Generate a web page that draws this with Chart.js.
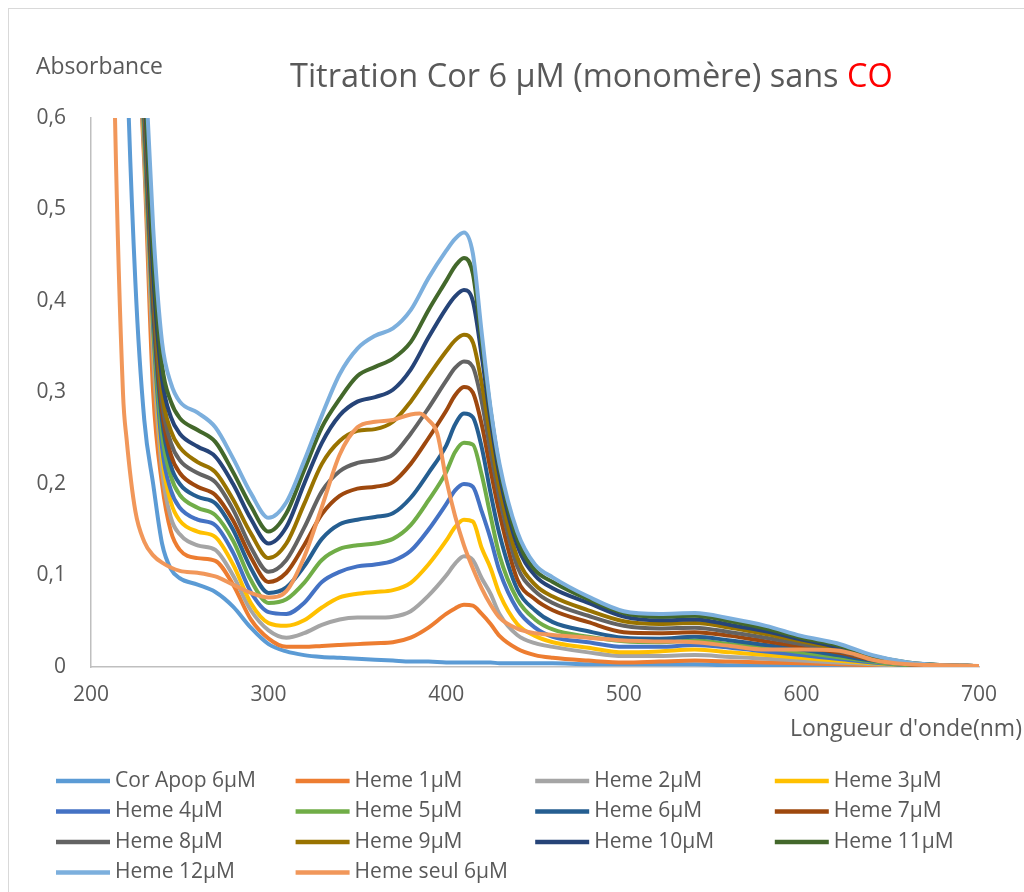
<!DOCTYPE html>
<html><head><meta charset="utf-8">
<script src="https://cdn.jsdelivr.net/npm/chart.js@4.4.0/dist/chart.umd.min.js"></script>
<style>html,body{margin:0;padding:0;background:#fff;} #wrap{position:relative;width:1024px;height:892px;}</style>
</head><body><div id="wrap"><canvas id="c"></canvas></div>
<script>
// ---------- DATA ----------
const wavelengths = [210,215,220,225,230,235,240,245,250,260,270,280,290,300,310,320,330,340,350,360,370,380,390,400,405,410,415,420,425,430,440,450,460,480,500,520,540,560,580,600,620,640,660,680,700];
const corApop = [1.6,1.1,0.68,0.42,0.27,0.2,0.135,0.107,0.097, 0.09,0.082,0.066,0.043,0.025, 0.017,0.013,0.011,0.01,0.009,0.008,0.007,0.006,0.006,0.005, 0.005,0.005,0.005,0.005,0.005,0.004, 0.004,0.004,0.004,0.003,0.003, 0.003,0.003,0.002,0.002,0.002,0.002,0.001,0.001,0.001,0.001];
const heme1 = [1.6,1.3,1.0,0.75,0.55,0.3,0.2,0.148,0.128, 0.119,0.116,0.09,0.052,0.031, 0.022,0.022,0.023,0.024,0.025,0.026,0.027,0.032,0.043,0.058, 0.064,0.068,0.067,0.058,0.047,0.034, 0.02,0.013,0.01,0.007,0.005, 0.006,0.007,0.006,0.005,0.004,0.003,0.002,0.001,0.001,0.001];
const heme2 = [1.6,1.3,1.0,0.76,0.56,0.34,0.215,0.163,0.145, 0.133,0.128,0.1,0.062,0.04, 0.032,0.037,0.046,0.052,0.054,0.054,0.055,0.061,0.078,0.1, 0.113,0.121,0.117,0.097,0.08,0.058, 0.035,0.026,0.022,0.016,0.012, 0.012,0.013,0.011,0.009,0.007,0.005,0.003,0.001,0.001,0.001];
const heme3 = [1.6,1.3,1.0,0.77,0.57,0.36,0.23,0.18,0.16, 0.148,0.142,0.112,0.07,0.048, 0.045,0.051,0.065,0.076,0.08,0.082,0.084,0.092,0.112,0.138, 0.153,0.161,0.159,0.13,0.108,0.08, 0.047,0.034,0.027,0.021,0.016, 0.017,0.019,0.016,0.013,0.01,0.007,0.004,0.002,0.001,0.001];
const heme4 = [1.6,1.3,1.0,0.78,0.58,0.37,0.24,0.193,0.174, 0.161,0.155,0.125,0.082,0.06, 0.058,0.07,0.093,0.104,0.11,0.112,0.116,0.127,0.15,0.178, 0.193,0.2,0.197,0.17,0.14,0.105, 0.063,0.043,0.033,0.027,0.022, 0.022,0.024,0.021,0.017,0.013,0.009,0.005,0.002,0.001,0.001];
const heme5 = [1.6,1.3,1.0,0.79,0.59,0.38,0.255,0.208,0.188, 0.174,0.166,0.138,0.095,0.07, 0.074,0.092,0.117,0.129,0.133,0.135,0.14,0.155,0.182,0.213, 0.235,0.245,0.243,0.21,0.165,0.122, 0.074,0.052,0.041,0.033,0.028, 0.027,0.029,0.025,0.021,0.016,0.011,0.006,0.002,0.001,0.001];
const heme6 = [1.6,1.3,1.02,0.8,0.6,0.39,0.27,0.22,0.2, 0.186,0.179,0.15,0.108,0.081, 0.087,0.11,0.14,0.156,0.161,0.164,0.168,0.185,0.212,0.242, 0.265,0.277,0.273,0.24,0.19,0.145, 0.085,0.062,0.049,0.039,0.032, 0.031,0.033,0.029,0.024,0.019,0.013,0.007,0.003,0.001,0.001];
const heme7 = [1.6,1.3,1.02,0.8,0.61,0.4,0.28,0.232,0.212, 0.197,0.188,0.16,0.12,0.093, 0.103,0.133,0.167,0.187,0.195,0.197,0.202,0.222,0.25,0.28, 0.297,0.306,0.3,0.265,0.215,0.168, 0.096,0.074,0.062,0.049,0.038, 0.037,0.038,0.034,0.028,0.022,0.016,0.008,0.003,0.001,0.001];
const heme8 = [1.6,1.3,1.03,0.81,0.62,0.41,0.29,0.245,0.226, 0.212,0.202,0.172,0.131,0.104, 0.117,0.152,0.192,0.214,0.223,0.226,0.232,0.255,0.283,0.313, 0.327,0.334,0.328,0.29,0.235,0.185, 0.11,0.083,0.07,0.056,0.045, 0.042,0.043,0.038,0.032,0.025,0.018,0.009,0.004,0.002,0.001];
const heme9 = [1.6,1.3,1.03,0.82,0.63,0.42,0.3,0.258,0.24, 0.224,0.213,0.183,0.146,0.119, 0.135,0.178,0.222,0.247,0.258,0.26,0.268,0.29,0.318,0.345, 0.357,0.363,0.355,0.31,0.25,0.196, 0.12,0.09,0.077,0.062,0.05, 0.047,0.048,0.043,0.036,0.028,0.02,0.01,0.004,0.002,0.001];
const heme10 = [1.6,1.3,1.04,0.83,0.64,0.43,0.315,0.273,0.255, 0.241,0.23,0.2,0.162,0.135, 0.153,0.2,0.245,0.275,0.29,0.295,0.303,0.325,0.36,0.392, 0.405,0.412,0.4,0.34,0.27,0.21, 0.133,0.1,0.086,0.07,0.055, 0.051,0.052,0.046,0.039,0.03,0.022,0.011,0.004,0.002,0.001];
const heme11 = [1.6,1.3,1.05,0.84,0.65,0.45,0.33,0.29,0.272, 0.259,0.246,0.213,0.176,0.148, 0.168,0.215,0.262,0.293,0.318,0.328,0.337,0.355,0.39,0.422, 0.438,0.447,0.43,0.355,0.28,0.218, 0.14,0.106,0.093,0.074,0.059, 0.055,0.056,0.05,0.042,0.032,0.024,0.012,0.005,0.002,0.001];
const heme12 = [1.6,1.3,1.06,0.86,0.68,0.48,0.355,0.31,0.29, 0.278,0.262,0.228,0.19,0.163, 0.18,0.225,0.275,0.32,0.348,0.362,0.37,0.39,0.425,0.455, 0.468,0.475,0.452,0.365,0.283,0.222, 0.148,0.112,0.098,0.077,0.061, 0.058,0.059,0.053,0.045,0.034,0.026,0.013,0.005,0.002,0.001];
const hemeSeulWavelengths = [208,213,218,220,225,230,235,240,250,260,270,280,290,300,310,320,330,340,350,360,370,380,385,390,395,400,405,410,415,420,425,430,440,450,460,480,500,520,540,560,580,600,620,630,640,660,680,700];
const hemeSeul = [1.3,0.65,0.3,0.25,0.17,0.137,0.122,0.114,0.105, 0.103,0.099,0.09,0.081,0.076,0.083,0.12,0.175,0.232,0.262,0.268,0.27,0.276, 0.277,0.27,0.255,0.205,0.165,0.133,0.108,0.086,0.068,0.054, 0.042,0.037,0.035,0.032,0.029, 0.028,0.027,0.023,0.019,0.019,0.018,0.014,0.008,0.003,0.002,0.001];

const seriesLabels = ['Cor Apop 6µM','Heme 1µM','Heme 2µM','Heme 3µM','Heme 4µM','Heme 5µM','Heme 6µM','Heme 7µM','Heme 8µM','Heme 9µM','Heme 10µM','Heme 11µM','Heme 12µM','Heme seul 6µM'];
const xTickValues = [200,300,400,500,600,700];
const yTickValues = [0,0.1,0.2,0.3,0.4,0.5,0.6];
const yTickLabels = ['0','0,1','0,2','0,3','0,4','0,5','0,6'];
const titleMain = 'Titration Cor 6 µM (monomère) sans ';
const titleRed = 'CO';
const yAxisTitle = 'Absorbance';
const xAxisTitle = "Longueur d'onde(nm)";

// ---------- STYLE ----------
const seriesColors = ['#5B9BD5','#ED7D31','#A5A5A5','#FFC000','#4472C4','#70AD47','#255E91','#9E480E','#636363','#997300','#264478','#43682B','#7CAFDD','#F1975A'];
const FAM = "'Open Sans', sans-serif";
const TXT = '#595959';

const mctx = document.createElement('canvas').getContext('2d');
function fit(text, w){ mctx.font = '100px ' + FAM; return 100 * w / mctx.measureText(text).width; }
const tickSize = fit('0,6', 29.5);
const legendSize = fit('Cor Apop 6µM', 141);
const titleSize = fit(titleMain + titleRed, 603);
const absSize = fit(yAxisTitle, 127);
const xtSize = fit(xAxisTitle, 232);

const seriesData = [corApop,heme1,heme2,heme3,heme4,heme5,heme6,heme7,heme8,heme9,heme10,heme11,heme12,hemeSeul];
const datasets = seriesData.map((vals, i) => {
  const xs = (vals === hemeSeul) ? hemeSeulWavelengths : wavelengths;
  return {
    label: seriesLabels[i],
    data: xs.map((w, k) => ({x: w, y: vals[k]})),
    borderColor: seriesColors[i],
    backgroundColor: seriesColors[i],
    borderWidth: 4,
    pointRadius: 0,
    fill: false,
    cubicInterpolationMode: 'monotone',
    order: -i
  };
});

const extras = {
  id: 'extras',
  beforeDraw(chart) {
    const ctx = chart.ctx;
    ctx.save();
    ctx.fillStyle = '#fff';
    ctx.fillRect(0, 0, chart.width, chart.height);
    ctx.strokeStyle = '#D9D9D9';
    ctx.lineWidth = 1;
    ctx.strokeRect(8.5, 8.5, 1100, 1000);
    ctx.restore();
  },
  afterDraw(chart) {
    const ctx = chart.ctx;
    ctx.save();
    ctx.textBaseline = 'middle';
    ctx.textAlign = 'left';
    ctx.font = titleSize + 'px ' + FAM;
    ctx.fillStyle = TXT;
    ctx.fillText(titleMain, 290, 78);
    const w = ctx.measureText(titleMain).width;
    ctx.fillStyle = '#FF0000';
    ctx.fillText(titleRed, 290 + w, 78);
    ctx.fillStyle = TXT;
    ctx.font = absSize + 'px ' + FAM;
    ctx.fillText(yAxisTitle, 36, 67);
    ctx.font = xtSize + 'px ' + FAM;
    ctx.fillText(xAxisTitle, 790, 729);
    ctx.font = legendSize + 'px ' + FAM;
    chart.data.datasets.forEach((ds, i) => {
      const col = i % 4, row = Math.floor(i / 4);
      const x0 = 56 + col * 239.6, y0 = 781 + row * 30.5;
      ctx.strokeStyle = ds.borderColor;
      ctx.lineWidth = 4.5;
      ctx.lineCap = 'butt';
      ctx.beginPath(); ctx.moveTo(x0, y0); ctx.lineTo(x0 + 54, y0); ctx.stroke();
      ctx.fillStyle = TXT;
      ctx.fillText(ds.label, x0 + 59, y0);
    });
    ctx.restore();
  }
};

new Chart(document.getElementById('c'), {
  type: 'line',
  data: { datasets },
  options: {
    responsive: true,
    maintainAspectRatio: false,
    animation: false,
    events: [],
    layout: { padding: { top: 118, right: 45, left: 0, bottom: 0 } },
    plugins: { legend: { display: false }, title: { display: false }, tooltip: { enabled: false } },
    scales: {
      x: {
        type: 'linear', min: 200, max: 700,
        afterBuildTicks: s => { s.ticks = xTickValues.map(v => ({value: v})); },
        afterFit: s => { s.height = 225; },
        ticks: { font: { family: FAM, size: tickSize }, color: TXT, padding: 15, maxRotation: 0, autoSkip: false, callback: v => String(v) },
        grid: { display: true, color: 'rgba(0,0,0,0)', drawTicks: false },
        border: { display: true, color: '#BFBFBF', width: 1.5 }
      },
      y: {
        min: 0, max: 0.6,
        afterBuildTicks: s => { s.ticks = yTickValues.map(v => ({value: v})); },
        afterFit: s => { s.width = 91; },
        ticks: { font: { family: FAM, size: tickSize }, color: TXT, padding: 25, autoSkip: false, callback: (v, i) => yTickLabels[i] },
        grid: { display: true, color: 'rgba(0,0,0,0)', drawTicks: false },
        border: { display: true, color: '#BFBFBF', width: 1.5 }
      }
    }
  },
  plugins: [extras]
});
</script></body></html>
